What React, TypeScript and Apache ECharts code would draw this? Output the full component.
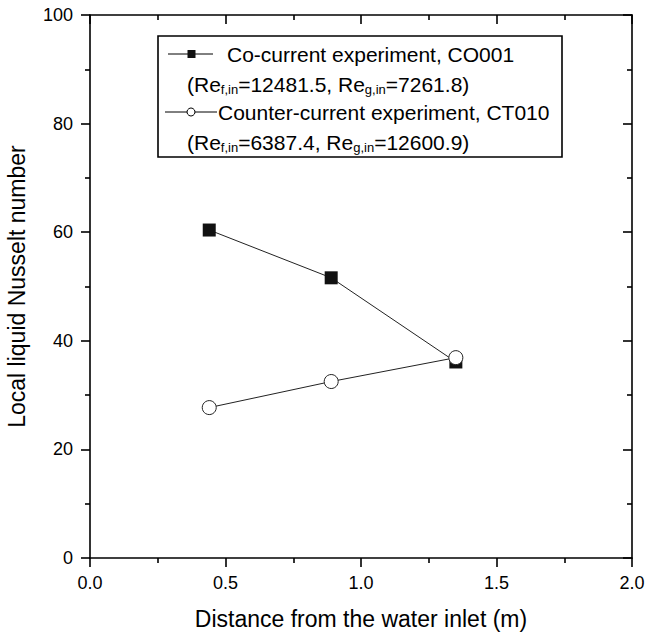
import React, { useEffect, useRef } from "react";
import * as echarts from "echarts";

const distance = [0.44, 0.89, 1.35];
const coCurrent = [60.4, 51.6, 36.1];
const counterCurrent = [27.7, 32.5, 36.9];
const seriesNames = ["Co-current experiment, CO001", "Counter-current experiment, CT010"];
const reF = ["12481.5", "6387.4"];
const reG = ["7261.8", "12600.9"];
const xAxisTitle = "Distance from the water inlet (m)";
const yAxisTitle = "Local liquid Nusselt number";

const FONT = "'Liberation Sans', Arial, Helvetica, sans-serif";
const INK = "#000";

export default function App() {
  const ref = useRef<HTMLDivElement>(null);
  useEffect(() => {
    if (!ref.current) return;
    const chart = echarts.init(ref.current, undefined, { renderer: "svg" });
    const axisCommon = {
      axisLine: { show: true, onZero: false, lineStyle: { color: INK, width: 1.6 } },
      splitLine: { show: false },
    };
    const legendFont = 21;
    const subRich = {
      s: { fontSize: 13, fontFamily: FONT, fill: INK, verticalAlign: "bottom", lineHeight: 8 },
    };
    const reText = (i: number) => `(Re{s|f,in}=${reF[i]}, Re{s|g,in}=${reG[i]})`;
    chart.setOption({
      animation: false,
      backgroundColor: "#fff",
      grid: { left: 90, right: 14, top: 15, bottom: 78, containLabel: false, outerBoundsMode: "none" },
      xAxis: [
        {
          type: "value",
          position: "bottom",
          min: 0,
          max: 2,
          interval: 0.5,
          ...axisCommon,
          axisTick: { show: true, inside: false, length: 9, lineStyle: { color: INK, width: 1.6 } },
          minorTick: { show: true, splitNumber: 2, length: 5, lineStyle: { color: INK, width: 1.6 } },
          axisLabel: {
            show: true,
            margin: 16,
            fontSize: 18,
            fontFamily: FONT,
            color: INK,
            formatter: (v: number) => v.toFixed(1),
          },
          name: xAxisTitle,
          nameLocation: "middle",
          nameGap: 49,
          nameTextStyle: { fontSize: 23, fontFamily: FONT, color: INK },
        },
        {
          type: "value",
          position: "top",
          min: 0,
          max: 2,
          interval: 0.5,
          ...axisCommon,
          axisTick: { show: true, inside: true, length: 9, lineStyle: { color: INK, width: 1.6 } },
          minorTick: { show: true, splitNumber: 2, length: 5, lineStyle: { color: INK, width: 1.6 } },
          axisLabel: { show: false },
        },
      ],
      yAxis: [
        {
          type: "value",
          position: "left",
          min: 0,
          max: 100,
          interval: 20,
          ...axisCommon,
          axisTick: { show: true, inside: false, length: 9, lineStyle: { color: INK, width: 1.6 } },
          minorTick: { show: true, splitNumber: 2, length: 5, lineStyle: { color: INK, width: 1.6 } },
          axisLabel: { show: true, margin: 17, fontSize: 18, fontFamily: FONT, color: INK },
          name: yAxisTitle,
          nameLocation: "middle",
          nameGap: 62,
          nameTextStyle: { fontSize: 23, fontFamily: FONT, color: INK },
        },
        {
          type: "value",
          position: "right",
          min: 0,
          max: 100,
          interval: 20,
          ...axisCommon,
          axisTick: { show: true, inside: true, length: 9, lineStyle: { color: INK, width: 1.6 } },
          minorTick: { show: true, splitNumber: 2, length: 5, lineStyle: { color: INK, width: 1.6 } },
          axisLabel: { show: false },
        },
      ],
      series: [
        {
          name: seriesNames[0],
          type: "line",
          xAxisIndex: 0,
          yAxisIndex: 0,
          data: distance.map((d, i) => [d, coCurrent[i]]),
          symbol: "rect",
          symbolSize: 13,
          itemStyle: { color: "#111", borderColor: "#111", borderWidth: 0 },
          lineStyle: { color: "#222", width: 1 },
          z: 3,
        },
        {
          name: seriesNames[1],
          type: "line",
          xAxisIndex: 0,
          yAxisIndex: 0,
          data: distance.map((d, i) => [d, counterCurrent[i]]),
          symbol: "circle",
          symbolSize: 14,
          itemStyle: { color: "#fff", borderColor: "#222", borderWidth: 1 },
          lineStyle: { color: "#222", width: 1 },
          z: 4,
        },
      ],
      graphic: [
        {
          type: "group",
          z: 100,
          children: [
            {
              type: "rect",
              shape: { x: 158, y: 36, width: 404, height: 121 },
              style: { fill: "#fff", stroke: INK, lineWidth: 1.6 },
            },
            { type: "line", shape: { x1: 168, y1: 54, x2: 213, y2: 54 }, style: { stroke: INK, lineWidth: 1 } },
            { type: "rect", shape: { x: 187.5, y: 50, width: 8, height: 8 }, style: { fill: "#111" } },
            {
              type: "text",
              x: 227,
              y: 54,
              style: { text: seriesNames[0], fontSize: legendFont, fontFamily: FONT, fill: INK, verticalAlign: "middle" },
            },
            {
              type: "text",
              x: 187,
              y: 84,
              style: {
                text: reText(0),
                fontSize: legendFont,
                lineHeight: 24,
                fontFamily: FONT,
                fill: INK,
                verticalAlign: "middle",
                rich: subRich,
              },
            },
            { type: "line", shape: { x1: 165, y1: 112, x2: 217, y2: 112 }, style: { stroke: INK, lineWidth: 1 } },
            { type: "circle", shape: { cx: 191, cy: 112, r: 4 }, style: { fill: "#fff", stroke: INK, lineWidth: 1 } },
            {
              type: "text",
              x: 218,
              y: 112,
              style: { text: seriesNames[1], fontSize: legendFont, fontFamily: FONT, fill: INK, verticalAlign: "middle" },
            },
            {
              type: "text",
              x: 187,
              y: 142,
              style: {
                text: reText(1),
                fontSize: legendFont,
                lineHeight: 24,
                fontFamily: FONT,
                fill: INK,
                verticalAlign: "middle",
                rich: subRich,
              },
            },
          ],
        },
      ],
    });
    return () => chart.dispose();
  }, []);
  return (
    <div
      ref={ref}
      style={{ position: "fixed", left: 0, top: 0, width: 646, height: 636, background: "#fff" }}
    />
  );
}
